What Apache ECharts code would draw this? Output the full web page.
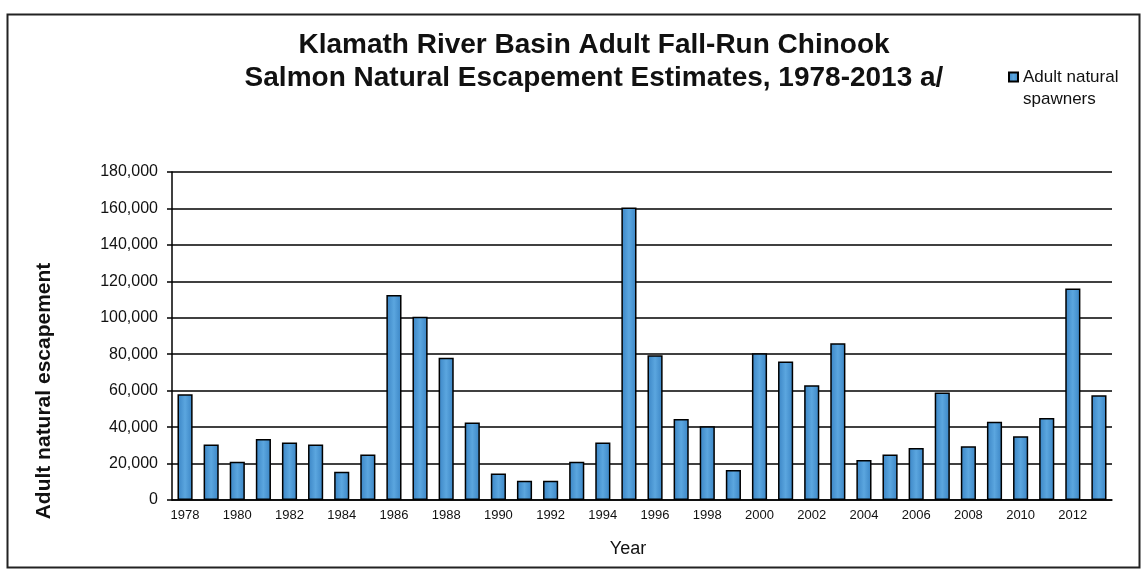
<!DOCTYPE html>
<html>
<head>
<meta charset="utf-8">
<script src="https://cdn.jsdelivr.net/npm/echarts@6/dist/echarts.min.js"></script>
<style>
html,body{margin:0;padding:0;background:#fff;}
#chart{width:1145px;height:572px;}
</style>
</head>
<body>
<div id="chart"></div>
<script>
const years = ['1978','1979','1980','1981','1982','1983','1984','1985','1986','1987','1988','1989',
  '1990','1991','1992','1993','1994','1995','1996','1997','1998','1999','2000','2001','2002','2003',
  '2004','2005','2006','2007','2008','2009','2010','2011','2012','2013'];
const spawners = [58000,30500,21000,33500,31500,30500,15500,25000,112500,100500,78000,42500,
  14500,10500,10500,21000,31500,160500,79500,44500,40500,16500,80500,76000,63000,86000,
  22000,25000,28500,59000,29500,43000,35000,45000,116000,57500];
const yTicks = {min: 0, max: 180000, interval: 20000};
const seriesName = 'Adult natural\nspawners';

const chart = echarts.init(document.getElementById('chart'));
const font = '"Liberation Sans", Arial, sans-serif';
chart.setOption({
  backgroundColor: '#ffffff',
  animation: false,
  title: {
    text: 'Klamath River Basin Adult Fall-Run Chinook\nSalmon Natural Escapement Estimates, 1978-2013 a/',
    left: 594, top: 29, textAlign: 'center', padding: 0,
    textStyle: {fontFamily: font, fontWeight: 'bold', fontSize: 28, lineHeight: 33, color: '#111'}
  },
  legend: {
    data: [seriesName],
    left: 1003, top: 39,
    icon: 'rect', itemWidth: 9, itemHeight: 9, itemGap: 4,
    formatter: name => ' \n' + name,
    textStyle: {fontFamily: font, fontSize: 17, color: '#111', lineHeight: 22, padding: [0,0,0,0]}
  },
  grid: {left: 172, right: 33, top: 172, bottom: 72},
  xAxis: {
    type: 'category', data: years,
    name: 'Year', nameLocation: 'middle', nameGap: 40,
    nameTextStyle: {fontFamily: font, fontSize: 18, color: '#111', padding: [0, 28, 0, 0]},
    axisLine: {lineStyle: {color: '#000', width: 1.5}},
    axisTick: {interval: 0, length: 5, inside: false, lineStyle: {color: '#000', width: 1.5}},
    axisLabel: {interval: 1, fontFamily: font, fontSize: 13, color: '#111', margin: 9}
  },
  yAxis: {
    type: 'value', min: yTicks.min, max: yTicks.max, interval: yTicks.interval,
    axisLine: {show: true, lineStyle: {color: '#000', width: 1.5}},
    axisTick: {show: true, length: 5, lineStyle: {color: '#000', width: 1.5}},
    splitLine: {lineStyle: {color: '#000', width: 1.5}},
    axisLabel: {fontFamily: font, fontSize: 16, color: '#111', margin: 14,
      formatter: v => v.toLocaleString('en-US')}
  },
  graphic: [
    {type: 'rect', left: 5, top: 12, shape: {width: 1132, height: 553},
      style: {fill: 'none', stroke: '#222', lineWidth: 2}, silent: true},
    {type: 'text', x: 44, y: 391, rotation: Math.PI / 2,
      style: {text: 'Adult natural escapement', fontFamily: font, fontWeight: 'bold', fontSize: 21,
        fill: '#111', align: 'center', verticalAlign: 'middle'}}
  ],
  series: [{
    name: seriesName, type: 'bar', data: spawners,
    barCategoryGap: '42%',
    itemStyle: {
      color: {type: 'linear', x: 0, y: 0, x2: 1, y2: 0, colorStops: [
        {offset: 0, color: '#3a84c4'}, {offset: 0.5, color: '#5ba6df'}, {offset: 1, color: '#3a84c4'}]},
      borderColor: '#000', borderWidth: 1.5
    }
  }]
});
</script>
</body>
</html>
